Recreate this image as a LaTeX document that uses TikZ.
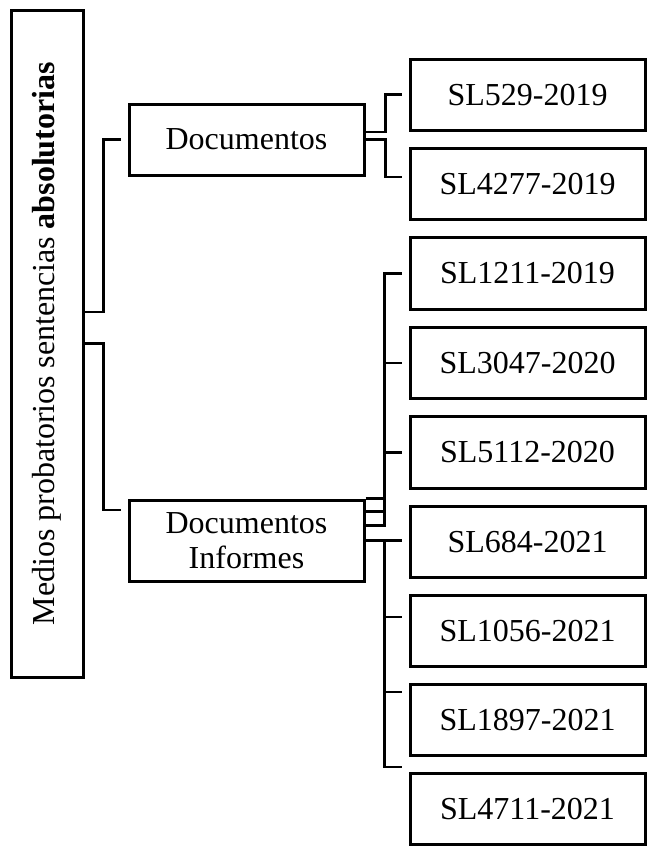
\documentclass[tikz,border=0pt]{standalone}
\usepackage{fontspec}
\setmainfont{Liberation Serif}
\usetikzlibrary{calc}
\begin{document}
\begin{tikzpicture}[x=1pt,y=-1pt,
  every node/.style={font=\fontsize{32}{35}\selectfont},
  box/.style={draw, line width=3pt, inner sep=0pt, align=center},
  leaf/.style={box, minimum width=235pt, minimum height=71.5pt},
  link/.style={line width=2.6pt, line cap=butt, line join=miter}]
\useasboundingbox (0,0) rectangle (650,846);
% root
\node[box, minimum width=72pt, minimum height=667pt] (root) at (47,343.5)
  {\rotatebox{90}{\makebox[563pt][s]{Medios probatorios sentencias \textbf{absolutorias}}}};
% level 1
\node[box, minimum width=235pt, minimum height=71pt] (doc) at (246.5,139.5) {Documentos};
\node[box, minimum width=235pt, minimum height=81pt] (inf) at (246.5,540.5) {Documentos\\Informes};
% leaves
\node[leaf] (c1) at (527.5,94.75) {SL529-2019};
\node[leaf] (c2) at (527.5,184) {SL4277-2019};
\node[leaf] (c3) at (527.5,273.5) {SL1211-2019};
\node[leaf] (c4) at (527.5,363) {SL3047-2020};
\node[leaf] (c5) at (527.5,452.5) {SL5112-2020};
\node[leaf] (c6) at (527.5,541.75) {SL684-2021};
\node[leaf] (c7) at (527.5,631) {SL1056-2021};
\node[leaf] (c8) at (527.5,720) {SL1897-2021};
\node[leaf] (c9) at (527.5,809) {SL4711-2021};
% root connectors
\draw[link] ([yshift=31.5pt]root.east) -- ++(19,0) |- ([xshift=-7pt]doc.west);
\draw[link] (root.east) -- ++(19,0) |- ([xshift=-7pt,yshift=30.5pt]inf.west);
% Documentos connectors
\draw[link] ([yshift=7.5pt]doc.east) -- ++(20,0) |- ([xshift=-7pt]c1.west);
\draw[link] (doc.east) -- ++(20,0) |- ([xshift=-7pt,yshift=7pt]c2.west);
% Documentos Informes connectors
\draw[link] (inf.north east) -- ++(19,0);
\draw[link] ([yshift=-13pt]inf.north east) -- ++(19,0);
\draw[link] ([yshift=-27pt]inf.north east) -- ++(19,0) |- ([xshift=-7pt]c3.west);
\draw[link] ([xshift=19pt,yshift=-27pt]inf.north east) |- ([xshift=-7pt]c4.west);
\draw[link] ([xshift=19pt,yshift=-27pt]inf.north east) |- ([xshift=-7pt]c5.west);
\draw[link] (inf.east) -- ($(inf.east -| c6.west)+(-7,0)$);
\draw[link] ([xshift=19pt]inf.east) |- ([xshift=-7pt,yshift=14pt]c7.west);
\draw[link] ([xshift=19pt]inf.east) |- ([xshift=-7pt,yshift=28pt]c8.west);
\draw[link] ([xshift=19pt]inf.east) |- ([xshift=-7pt,yshift=42pt]c9.west);
\end{tikzpicture}
\end{document}
